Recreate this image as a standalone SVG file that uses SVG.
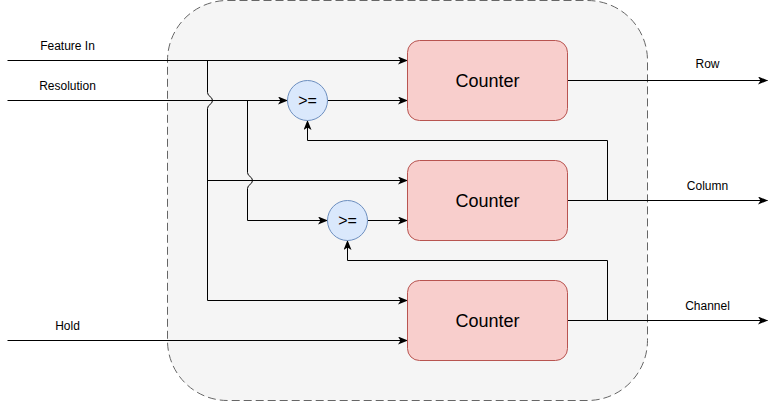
<svg xmlns="http://www.w3.org/2000/svg" width="776" height="401" viewBox="0 0 776 401">
<defs>
<marker id="arr" viewBox="0 0 10 8" refX="9.5" refY="4" markerWidth="10" markerHeight="8" orient="auto" markerUnits="userSpaceOnUse">
<path d="M0,0 L10,4 L0,8 L2.5,4 Z" fill="#000"/>
</marker>
</defs>
<style>
.lbl{font-family:"Liberation Sans",Arial,sans-serif;font-size:12px;fill:#000;text-anchor:middle}
.ctr{fill:#f8cecc;stroke:#b85450;stroke-width:1}
.cmp{fill:#dae8fc;stroke:#6c8ebf;stroke-width:1}
.big{font-family:"Liberation Sans",Arial,sans-serif;font-size:18px;fill:#000;text-anchor:middle}
.ge{font-family:"Liberation Sans",Arial,sans-serif;font-size:16px;fill:#000;text-anchor:middle}
.w{fill:none;stroke:#000;stroke-width:1}
.a{marker-end:url(#arr)}
</style>
<g transform="translate(0.5,0.5)">
<g id="container">
<rect x="167" y="0" width="480" height="400" rx="60" ry="60" fill="#f5f5f5" stroke="#666666" stroke-dasharray="8 4"/>
</g>
<g id="connectors">
<path class="w a" d="M7,60 H407"/>
<path class="w" d="M207,60 V92 C207,96 212,96 212,100 C212,104 207,104 207,108 V300"/>
<path class="w a" d="M207,180 H407"/>
<path class="w a" d="M207,300 H407"/>
<path class="w a" d="M7,100 H287"/>
<path class="w" d="M247,100 V172 C247,176 252,176 252,180 C252,184 247,184 247,188 V220"/>
<path class="w a" d="M247,220 H327"/>
<path class="w a" d="M327,100 H407"/>
<path class="w a" d="M367,220 H407"/>
<path class="w a" d="M7,340 H407"/>
<path class="w a" d="M567,80 H767"/>
<path class="w a" d="M567,200 H767"/>
<path class="w a" d="M567,320 H767"/>
<path class="w a" d="M607,200 V140 H307 V120"/>
<path class="w a" d="M607,320 V260 H347 V240"/>
</g>
<g id="labels">
<text class="lbl" x="67" y="49">Feature In</text>
<text class="lbl" x="67" y="89">Resolution</text>
<text class="lbl" x="67" y="329">Hold</text>
<text class="lbl" x="707" y="67">Row</text>
<text class="lbl" x="707" y="189">Column</text>
<text class="lbl" x="707" y="309">Channel</text>
</g>
<g id="counter1">
<rect class="ctr" x="407" y="40" width="160" height="80" rx="12" ry="12"/>
<text class="big" x="487" y="86.5">Counter</text>
</g>
<g id="counter2">
<rect class="ctr" x="407" y="160" width="160" height="80" rx="12" ry="12"/>
<text class="big" x="487" y="206.5">Counter</text>
</g>
<g id="counter3">
<rect class="ctr" x="407" y="280" width="160" height="80" rx="12" ry="12"/>
<text class="big" x="487" y="326.5">Counter</text>
</g>
<g id="cmp1">
<circle class="cmp" cx="307" cy="100" r="20"/>
<text class="ge" x="307" y="105.5">&gt;=</text>
</g>
<g id="cmp2">
<circle class="cmp" cx="347" cy="220" r="20"/>
<text class="ge" x="347" y="225.5">&gt;=</text>
</g>
</g>
</svg>
